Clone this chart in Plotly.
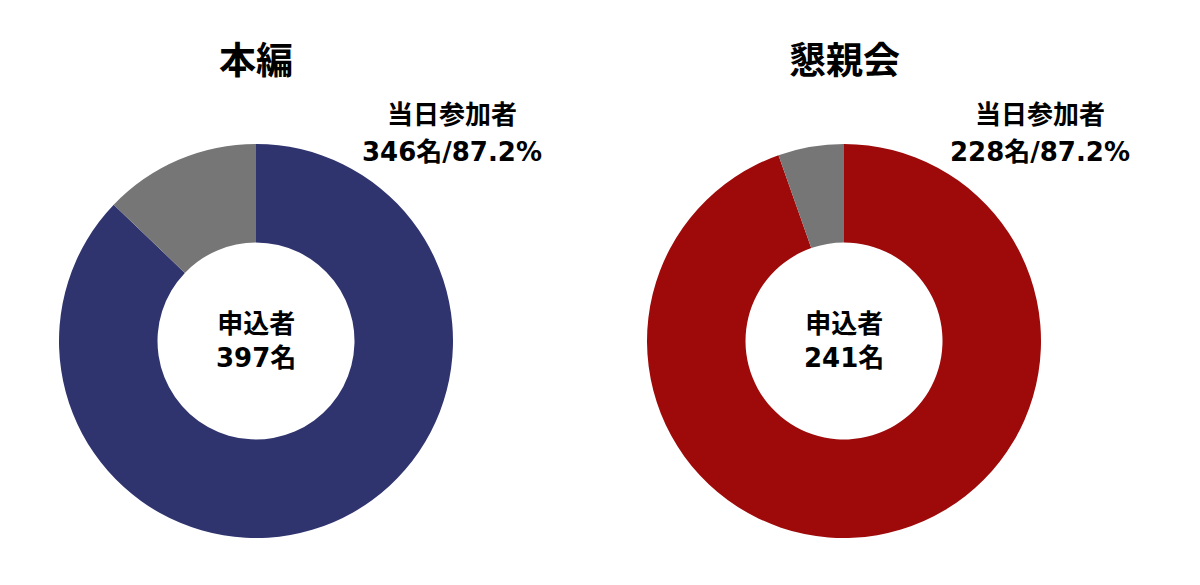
import plotly.graph_objects as go

titles = ["本編", "懇親会"]
applicants = [397, 241]
attendees = [346, 228]
attend_pct_labels = ["87.2%", "87.2%"]
slice_names = ["当日参加者", "欠席"]
main_colors = ["#2F336E", "#9E0A0A"]
gray = "#767676"

FONT = "DejaVu Sans, Noto Sans CJK JP"
W, H = 1200, 585
cx_px = [256, 844]
cy_px = 341
r_px = 197


def ann(x_px, y_px, text, size):
    fig.add_annotation(x=x_px / W, y=(H - y_px) / H, xref="paper", yref="paper",
                       xanchor="center", yanchor="middle",
                       text=f"<b>{text}</b>", showarrow=False, align="center",
                       font=dict(family=FONT, size=size, color="#000000"))


fig = go.Figure()
for i in range(2):
    absent = applicants[i] - attendees[i]
    x0 = (cx_px[i] - r_px) / W
    x1 = (cx_px[i] + r_px) / W
    y0 = (H - cy_px - r_px) / H
    y1 = (H - cy_px + r_px) / H
    fig.add_trace(go.Pie(
        labels=slice_names,
        values=[attendees[i], absent],
        hole=0.5,
        sort=False,
        direction="clockwise",
        rotation=0,
        marker=dict(colors=[main_colors[i], gray], line=dict(width=0)),
        textinfo="none",
        hoverinfo="label+value",
        showlegend=False,
        domain=dict(x=[x0, x1], y=[y0, y1]),
    ))
    ann(cx_px[i], 62, titles[i], 37)
    ann(cx_px[i] + 196, 115, slice_names[0], 26)
    ann(cx_px[i] + 196, 152, f"{attendees[i]}名/{attend_pct_labels[i]}", 26)
    ann(cx_px[i], 341, f"申込者<br>{applicants[i]}名", 26)

fig.update_layout(
    width=W, height=H,
    margin=dict(l=0, r=0, t=0, b=0),
    paper_bgcolor="white", plot_bgcolor="white",
    font=dict(family=FONT),
)
fig.write_html("out.html", config={"displayModeBar": False},
               post_script="document.body.style.margin='0';")
